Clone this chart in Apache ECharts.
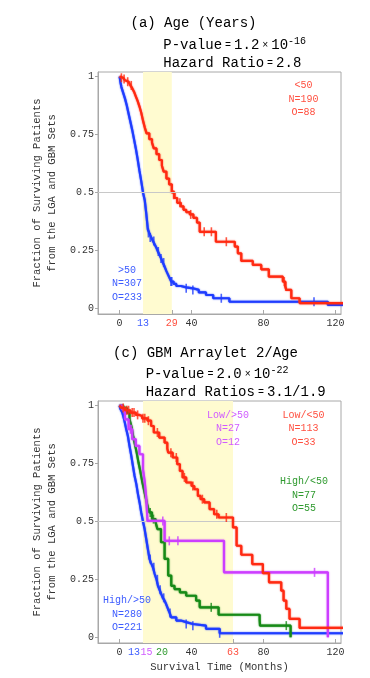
<!DOCTYPE html>
<html>
<head>
<meta charset="utf-8">
<script src="https://cdn.jsdelivr.net/npm/echarts@6/dist/echarts.min.js"></script>
<style>
  html, body { margin: 0; padding: 0; background: #fff; }
  #chart { width: 370px; height: 678px; }
</style>
</head>
<body>
<div id="chart"></div>
<script>
// ---- Kaplan–Meier steps, [months, surviving fraction] ----
// (a) Age
const ageUnder50 = [[0,1.0],[0.8,0.995],[2,0.99],[3,0.984],[4,0.978],[5,0.97],[6,0.962],[7,0.95],[8,0.935],[9,0.915],[10,0.895],[11,0.872],[12,0.845],[13,0.81],[14,0.78],[15,0.755],[16.5,0.73],[18,0.715],[19,0.69],[20.5,0.665],[22,0.64],[23.5,0.615],[24.5,0.59],[26,0.56],[27.5,0.535],[29,0.5],[30.5,0.476],[32,0.455],[34,0.44],[35.5,0.425],[37,0.415],[39,0.405],[41,0.39],[43,0.37],[44.5,0.33],[53.5,0.287],[64,0.266],[65.7,0.237],[67.6,0.204],[74,0.187],[78.7,0.168],[82.9,0.136],[90.7,0.115],[92,0.095],[92.6,0.079],[95.4,0.043],[100,0.022],[126,0.022]];
const ageUnder50Censored = [[1,0.995],[2.5,0.99],[4.5,0.978],[6.5,0.962],[30,0.49],[33.5,0.455],[39.5,0.405],[47,0.33],[51,0.33],[59.3,0.287],[91.5,0.115],[92.3,0.095]];
const ageOver50 = [[0,1.0],[0.5,0.975],[1,0.955],[2,0.93],[3,0.905],[4,0.875],[5,0.84],[6,0.805],[7,0.77],[8,0.73],[9,0.69],[10,0.645],[11,0.595],[12,0.55],[13,0.5],[14,0.465],[14.8,0.41],[15.7,0.34],[16.5,0.325],[17.6,0.305],[18.5,0.29],[19.5,0.275],[20.5,0.26],[21.3,0.245],[22.2,0.23],[23.1,0.215],[24,0.197],[25,0.18],[26,0.16],[26.9,0.145],[27.8,0.13],[28.7,0.115],[30,0.105],[31.5,0.096],[34,0.09],[37,0.086],[40.7,0.079],[44,0.068],[48,0.057],[52,0.043],[61,0.028],[115.7,0.014],[126,0.014]];
const ageOver50Censored = [[16,0.325],[17,0.305],[19,0.29],[21.5,0.245],[23,0.215],[24.5,0.197],[28.5,0.115],[29,0.115],[37,0.086],[40.7,0.079],[56.5,0.043],[108,0.028]];

// (c) GBM arraylet 2 / age
const lowUnder50 = [[0,1.0],[1,0.99],[3,0.98],[6,0.97],[9,0.96],[11,0.955],[12.5,0.945],[15.5,0.935],[17.5,0.912],[19,0.884],[22,0.862],[25,0.84],[26.5,0.815],[27,0.797],[29.5,0.776],[32,0.747],[33.5,0.718],[35,0.69],[37,0.668],[40,0.653],[41.5,0.639],[43.5,0.61],[45,0.596],[47,0.582],[50,0.553],[52.5,0.531],[55,0.517],[63,0.474],[65,0.395],[67.6,0.356],[73.7,0.316],[79.6,0.277],[83,0.237],[89.8,0.201],[91.1,0.158],[92.6,0.122],[94.4,0.079],[100,0.04],[126,0.04]];
const lowUnder50Censored = [[2,0.99],[4,0.98],[5,0.98],[7,0.97],[8,0.97],[10,0.96],[13,0.945],[14,0.945],[16,0.935],[21,0.884],[28.5,0.797],[31.5,0.776],[36,0.69],[40.7,0.653],[46,0.596],[54,0.531],[59.3,0.517]];
const highUnder50 = [[0,1.0],[2,0.99],[4,0.97],[5.5,0.941],[6.5,0.912],[7.5,0.87],[8.5,0.833],[9.5,0.797],[10.5,0.754],[11.5,0.718],[12.5,0.675],[13.5,0.639],[14.5,0.603],[15.5,0.567],[16.5,0.539],[18,0.51],[20,0.496],[21,0.467],[23,0.41],[25,0.338],[27,0.266],[28.7,0.222],[30.5,0.208],[33.5,0.194],[37,0.179],[42.5,0.158],[44.5,0.129],[55,0.097],[77.8,0.076],[78,0.05],[95,0]];
const highUnder50Censored = [[17,0.539],[18.8,0.51],[50.9,0.129],[92.6,0.05]];
const lowOver50 = [[0,1.0],[1.5,0.984],[3,0.941],[5,0.898],[7,0.855],[9,0.826],[11,0.79],[13,0.725],[14,0.668],[14.8,0.6],[15.5,0.502],[25,0.416],[58,0.28],[115.7,0]];
const lowOver50Censored = [[6,0.898],[6.5,0.898],[24,0.502],[27.6,0.416],[32.4,0.416],[108.3,0.28]];
const highOver50 = [[0,1.0],[0.5,0.985],[1.5,0.97],[2.5,0.941],[3.5,0.905],[4.6,0.869],[5.5,0.826],[6.5,0.783],[7.4,0.74],[8.3,0.697],[9.3,0.661],[10.2,0.618],[11.1,0.582],[12,0.539],[13,0.5],[13.9,0.467],[14.8,0.424],[15.7,0.381],[16.6,0.338],[17.5,0.32],[18.5,0.302],[19.5,0.273],[20.5,0.25],[21.3,0.222],[22.2,0.205],[23.1,0.187],[24,0.17],[25,0.158],[26,0.14],[26.9,0.122],[27.8,0.105],[28.7,0.086],[31.5,0.072],[34,0.065],[37,0.057],[40.7,0.05],[48,0.036],[55.6,0.017],[126,0.017]];
const highOver50Censored = [[17,0.338],[19,0.302],[21,0.25],[22.5,0.205],[24.5,0.17],[28,0.105],[37,0.057],[40.7,0.05],[55.6,0.017]];

// median-survival windows shaded in each panel
const ageWindow = [13, 29];
const arrayletWindow = [13, 63];

// tick positions
const ageTicks = [0, 13, 29, 40, 80, 120];
const arrayletTicks = [0, 13, 15, 20, 40, 63, 80, 120];
const fractionTicks = [0, 0.25, 0.5, 0.75, 1];
const midLine = 0.5;

// ---- styling ----
const RED = '#ff2a12', BLUE = '#1f3dff', GREEN = '#178a17', PURPLE = '#cc3dff';
const LBL_RED = '#ff5040', LBL_BLUE = '#3d5cff', LBL_GREEN = '#2f9a2f', LBL_PURPLE = '#d05cff';
const MONO = '"Liberation Mono", "DejaVu Sans Mono", monospace';
const BAND = '#fffbd0';
const FRAME = '#a8a8a8';
const Y_MIN = -0.025, Y_MAX = 1.02;

const tickColor = { 13: LBL_BLUE, 29: LBL_RED, 15: LBL_PURPLE, 20: LBL_GREEN, 63: LBL_RED };
// label nudges where neighbouring ticks crowd each other
const tickPad = { 13: [0, 18, 0, 0], 20: [0, 0, 0, 13] };

function tickRich(ticks, nudge) {
  const rich = {};
  ticks.forEach(t => {
    rich['t' + t] = {
      color: tickColor[t] || '#333',
      fontFamily: MONO, fontSize: 10,
      padding: (nudge && tickPad[t]) || [0, 0, 0, 0]
    };
  });
  return rich;
}

function xAxisFor(gridIndex, ticks, nudge, name) {
  return {
    type: 'value', gridIndex, min: -12, max: 123,
    axisLine: { show: true, onZero: false, lineStyle: { color: FRAME, width: 1 } },
    axisTick: { show: true, inside: true, length: 4, customValues: ticks, lineStyle: { color: FRAME } },
    axisLabel: {
      customValues: ticks, margin: 4,
      formatter: v => '{t' + v + '|' + v + '}',
      rich: tickRich(ticks, nudge)
    },
    splitLine: { show: false },
    name: name || '', nameLocation: 'middle', nameGap: 19,
    nameTextStyle: { fontFamily: MONO, fontSize: 10.5, color: '#333' }
  };
}

function yAxisFor(gridIndex) {
  return {
    type: 'value', gridIndex, min: Y_MIN, max: Y_MAX,
    axisLine: { show: true, onZero: false, lineStyle: { color: FRAME, width: 1 } },
    axisTick: { show: true, inside: false, length: 3, customValues: fractionTicks, lineStyle: { color: FRAME } },
    axisLabel: { customValues: fractionTicks, margin: 4, fontFamily: MONO, fontSize: 10, color: '#333' },
    splitLine: { show: false },
    name: 'Fraction of Surviving Patients\nfrom the LGA and GBM Sets',
    nameLocation: 'middle', nameRotate: 90, nameGap: 34,
    nameTextStyle: { fontFamily: MONO, fontSize: 10.5, color: '#333', lineHeight: 14.7, align: 'center' }
  };
}

function curve(data, color, g, z) {
  return {
    type: 'line', step: 'end', data, xAxisIndex: g, yAxisIndex: g,
    showSymbol: false, clip: false, z: z, silent: true,
    lineStyle: { color, width: 2.2, shadowColor: color, shadowBlur: 1.5 }
  };
}
function censors(data, color, g, z) {
  return {
    type: 'scatter', data, xAxisIndex: g, yAxisIndex: g, z: z, silent: true,
    symbol: 'rect', symbolSize: [1.6, 9],
    itemStyle: { color }
  };
}
// grey reference line at one half, sitting underneath the shaded window
function halfLine(g) {
  return {
    type: 'line', data: [], xAxisIndex: g, yAxisIndex: g, z: 1, silent: true,
    markLine: {
      silent: true, symbol: 'none', label: { show: false },
      lineStyle: { color: '#c8c8c8', width: 1, type: 'solid' },
      data: [{ yAxis: midLine }]
    }
  };
}
function medianWindow(g, win) {
  return {
    type: 'line', data: [], xAxisIndex: g, yAxisIndex: g, z: 2, silent: true,
    markArea: {
      silent: true, itemStyle: { color: BAND },
      data: [[{ xAxis: win[0], yAxis: Y_MIN }, { xAxis: win[1], yAxis: Y_MAX }]]
    }
  };
}

const titleRich = {
  m: { fontFamily: MONO, fontSize: 14, color: '#222', lineHeight: 18 },
  e: { fontFamily: MONO, fontSize: 10, color: '#222', lineHeight: 18, padding: [0, 3, 0, 3] },
  s: { fontFamily: MONO, fontSize: 10, color: '#222', lineHeight: 10, verticalAlign: 'top' }
};
function titleText(x, y, text, align) {
  return {
    type: 'text', x, y, z: 100, silent: true,
    style: { text, rich: titleRich, align: align || 'left', verticalAlign: 'middle' }
  };
}
function note(x, y, lines, color) {
  return {
    type: 'text', x, y, z: 100, silent: true,
    style: {
      text: lines.join('\n'), fill: color, font: '10px ' + MONO,
      lineHeight: 13.5, align: 'center', verticalAlign: 'top'
    }
  };
}

const chart = echarts.init(document.getElementById('chart'), null, { renderer: 'canvas' });
chart.setOption({
  animation: false,
  backgroundColor: '#fff',
  grid: [
    { left: 98, top: 72, width: 243, height: 242, show: true, borderColor: FRAME, borderWidth: 1, backgroundColor: 'transparent' },
    { left: 98, top: 401, width: 243, height: 242, show: true, borderColor: FRAME, borderWidth: 1, backgroundColor: 'transparent' }
  ],
  xAxis: [xAxisFor(0, ageTicks, false), xAxisFor(1, arrayletTicks, true, 'Survival Time (Months)')],
  yAxis: [yAxisFor(0), yAxisFor(1)],
  series: [
    halfLine(0), medianWindow(0, ageWindow),
    curve(ageOver50, BLUE, 0, 3), censors(ageOver50Censored, BLUE, 0, 3),
    curve(ageUnder50, RED, 0, 4), censors(ageUnder50Censored, RED, 0, 4),
    halfLine(1), medianWindow(1, arrayletWindow),
    curve(highOver50, BLUE, 1, 3), censors(highOver50Censored, BLUE, 1, 3),
    curve(highUnder50, GREEN, 1, 4), censors(highUnder50Censored, GREEN, 1, 4),
    curve(lowOver50, PURPLE, 1, 5), censors(lowOver50Censored, PURPLE, 1, 5),
    curve(lowUnder50, RED, 1, 6), censors(lowUnder50Censored, RED, 1, 6)
  ],
  graphic: [
    titleText(193.5, 23.5, '{m|(a) Age (Years)}', 'center'),
    titleText(163.3, 45, '{m|P-value}{e|=}{m|1.2}{e|×}{m|10}{s|-16}'),
    titleText(163.3, 63, '{m|Hazard Ratio}{e|=}{m|2.8}'),
    titleText(205.5, 353.5, '{m|(c) GBM Arraylet 2/Age}', 'center'),
    titleText(145.7, 374.5, '{m|P-value}{e|=}{m|2.0}{e|×}{m|10}{s|-22}'),
    titleText(145.7, 392.5, '{m|Hazard Ratios}{e|=}{m|3.1/1.9}'),
    note(303.5, 79, ['<50', 'N=190', 'O=88'], LBL_RED),
    note(127, 263.5, ['>50', 'N=307', 'O=233'], LBL_BLUE),
    note(228, 408.5, ['Low/>50', 'N=27', 'O=12'], LBL_PURPLE),
    note(303.5, 408.5, ['Low/<50', 'N=113', 'O=33'], LBL_RED),
    note(304, 475, ['High/<50', 'N=77', 'O=55'], LBL_GREEN),
    note(127, 594, ['High/>50', 'N=280', 'O=221'], LBL_BLUE)
  ]
});
</script>
</body>
</html>
